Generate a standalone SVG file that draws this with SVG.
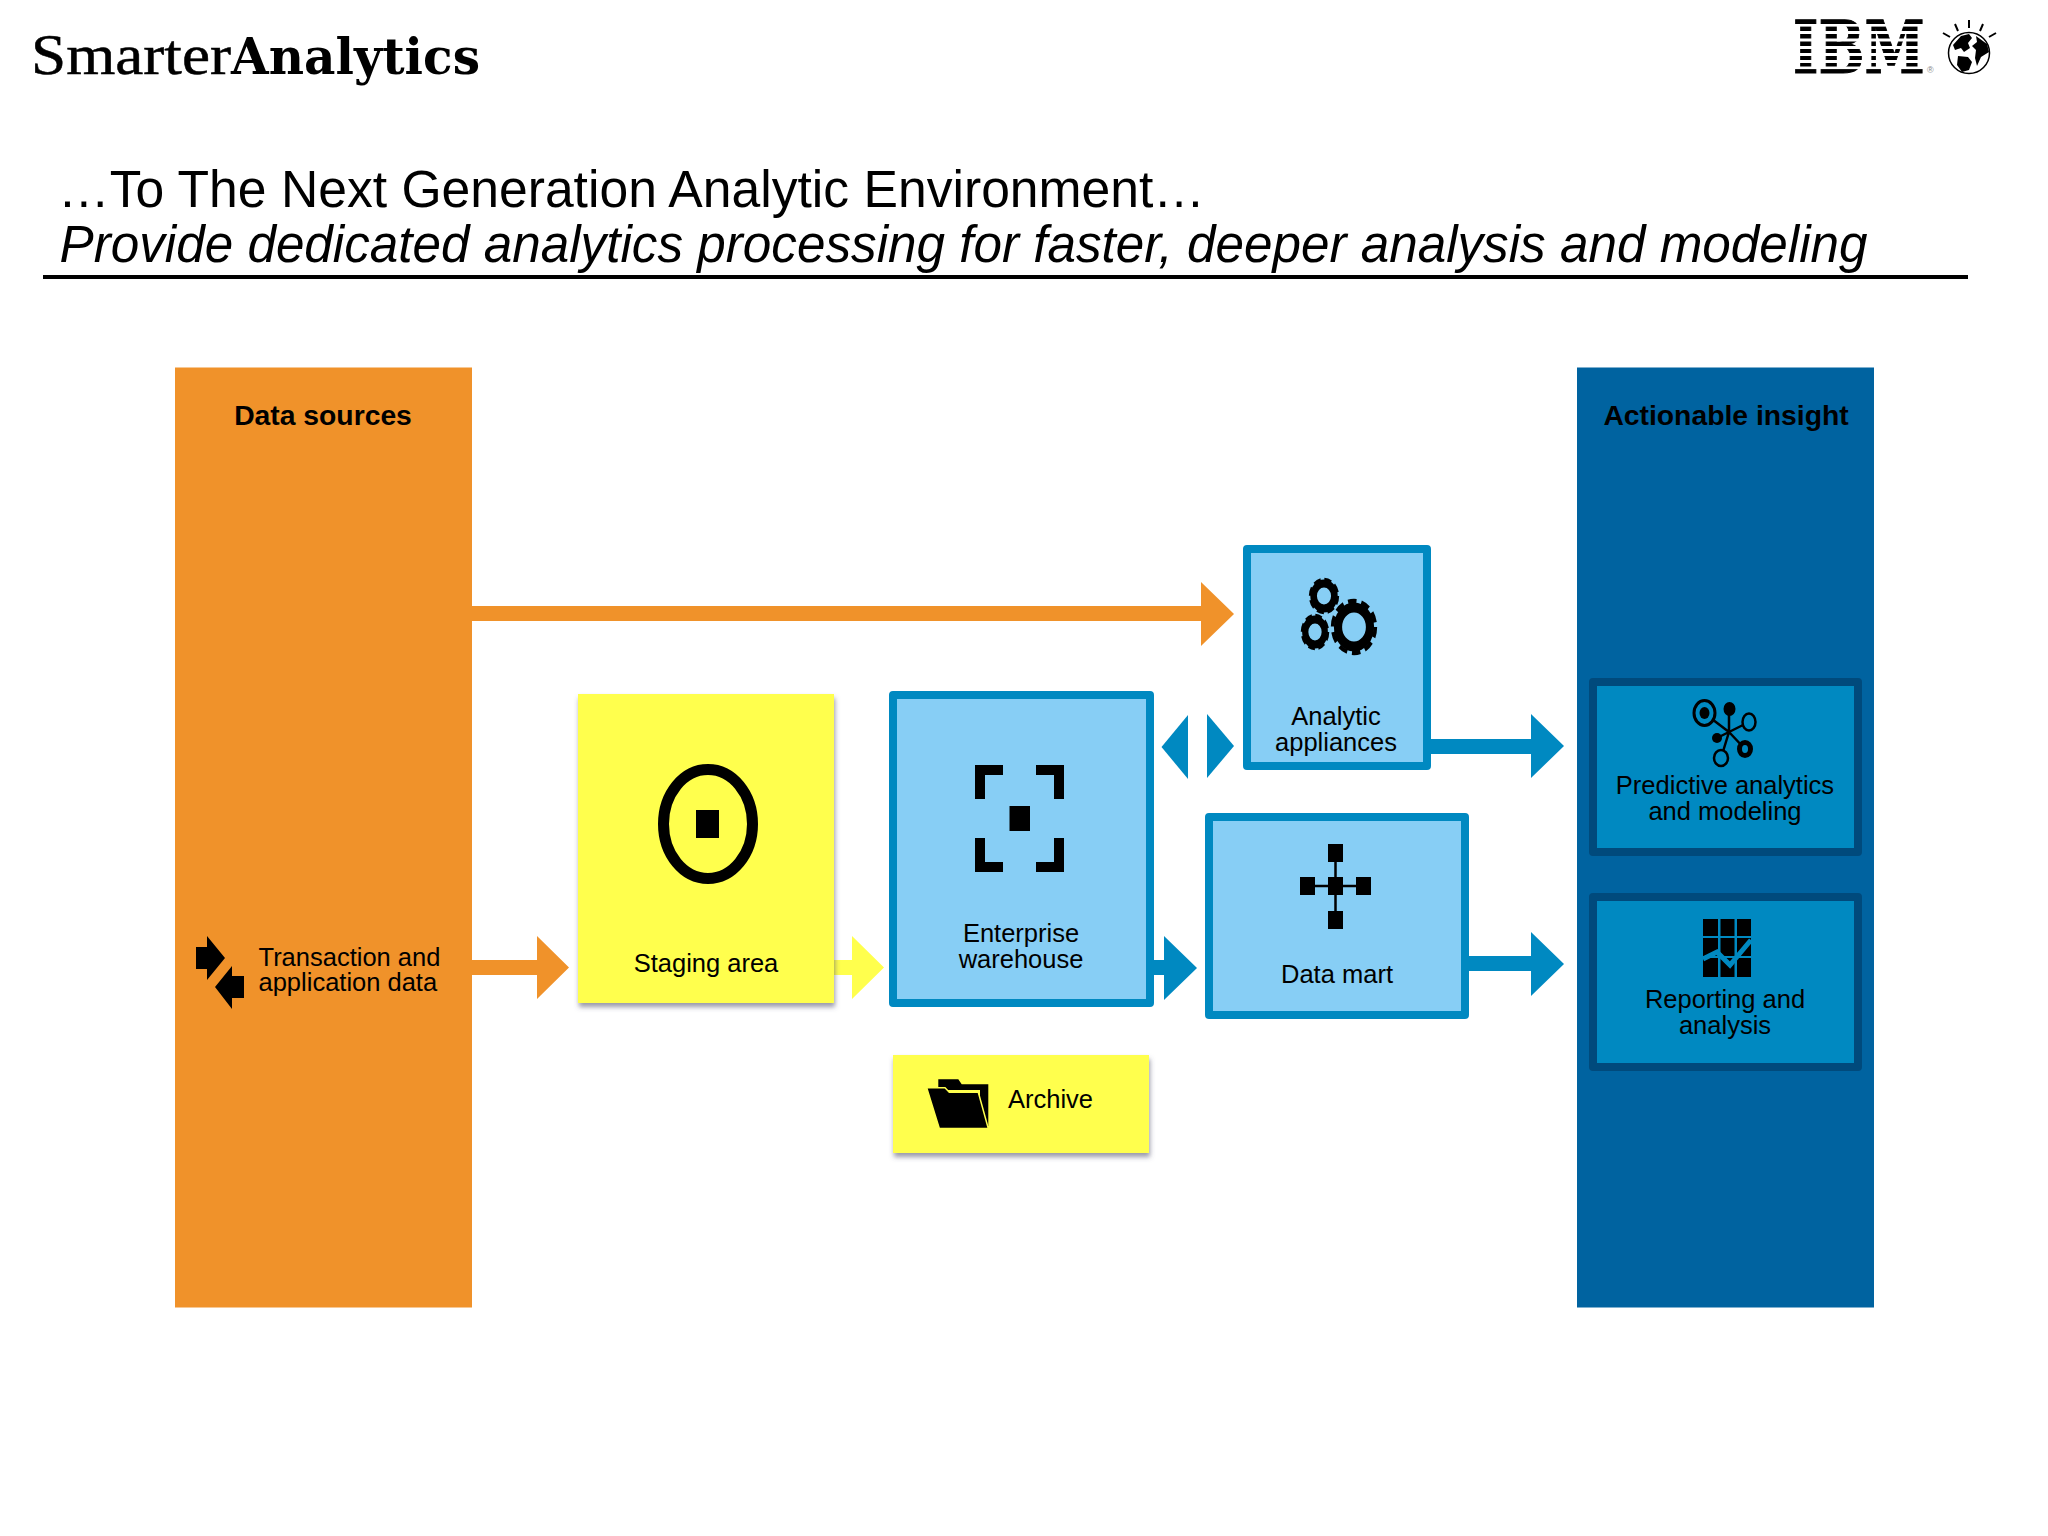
<svg xmlns="http://www.w3.org/2000/svg" width="2048" height="1536" viewBox="0 0 2048 1536">
<defs>
<style>
text{font-family:"Liberation Sans",Arial,sans-serif;fill:#000}
.l{font-size:25.5px;text-anchor:middle}
.h{font-size:28.3px;font-weight:bold;text-anchor:middle}
.lb{fill:#87CEF5;stroke:#0089C1;stroke-width:8;stroke-linejoin:round}
.db{fill:#0089C1;stroke:#004A7C;stroke-width:8;stroke-linejoin:round}
.y{fill:#FFFF4D;filter:url(#sh)}
.ring{fill:none;stroke:#000}
.bk{fill:#000}
.ln{stroke:#000;fill:none}
.o{fill:#F0922A}.ye{fill:#FFFF4D}.b{fill:#0089C1}
</style>
<filter id="sh" x="-5%" y="-5%" width="112%" height="115%"><feDropShadow dx="1" dy="4" stdDeviation="2.5" flood-color="#555570" flood-opacity="0.6"/></filter>
</defs>
<rect width="2048" height="1536" fill="#fff"/>
<g id="logo">
<text x="31" y="74" font-size="56" style="font-family:'Liberation Serif',serif;stroke:#000;stroke-width:.5" textLength="200" lengthAdjust="spacingAndGlyphs">Smarter</text>
<text x="231" y="74" font-size="51" font-weight="bold" style="font-family:'DejaVu Serif',serif" textLength="249" lengthAdjust="spacingAndGlyphs">Analytics</text>
</g>
<g id="ibm-logo">
<text transform="translate(1793,73) scale(1,1.335)" x="0" y="0" font-size="54.4" font-weight="bold" style="font-family:'DejaVu Serif',serif;stroke:#000;stroke-width:.8">IBM</text>
<g fill="#fff"><rect x="1788" y="24" width="142" height="2.6"/><rect x="1788" y="31" width="142" height="3"/><rect x="1788" y="38.5" width="142" height="3"/><rect x="1788" y="46" width="142" height="3"/><rect x="1788" y="53" width="142" height="3"/><rect x="1788" y="60" width="142" height="3"/><rect x="1788" y="66.5" width="142" height="2.6"/></g>
<text x="1927" y="73" font-size="9" style="fill:#888">®</text>
<circle cx="1969" cy="53" r="20.5" fill="#fff" stroke="#000" stroke-width="1.5"/>
<path class="bk" d="M1953 45L1961 36L1969 34L1972 38L1968 43L1970 48L1964 52L1961 48L1955 50ZM1976 36L1987 44L1989 52L1981 57L1977 66L1975 58L1976 50L1972 46L1977 42ZM1958 56L1968 57L1972 62L1969 70L1962 72L1957 65Z"/>
<g class="ln" stroke-width="2"><path d="M1969 20V28M1955 24L1958 31M1983 24L1980 31M1943 33L1950 37M1996 33L1989 37"/></g>
</g>
<g id="title">
<text x="58" y="207" font-size="51" textLength="1147" lengthAdjust="spacingAndGlyphs">…To The Next Generation Analytic Environment…</text>
<text x="59.500" y="262" font-size="51" font-style="italic" textLength="1808" lengthAdjust="spacingAndGlyphs">Provide dedicated analytics processing for faster, deeper analysis and modeling</text>
<rect x="43" y="275" width="1925" height="4"/>
</g>
<g id="connectors">
<polygon class="o" points="472,606 1201,606 1201,582 1234,614 1201,646 1201,621 472,621"/>
<polygon class="o" points="472,960 537,960 537,936 569,967.5 537,999 537,975 472,975"/>
<polygon class="ye" points="834,960 852,960 852,936 884,967.5 852,999 852,975 834,975"/>
<polygon class="b" points="1161.5,747 1188,715 1188,779"/>
<polygon class="b" points="1234,746 1207,714 1207,778"/>
<polygon class="b" points="1430,739 1531,739 1531,714 1564,746 1531,778 1531,754 1430,754"/>
<polygon class="b" points="1154,960 1164,960 1164,936 1197,968 1164,1000 1164,975 1154,975"/>
<polygon class="b" points="1469,956 1531,956 1531,932 1564,964 1531,996 1531,971 1469,971"/>
</g>
<g id="data-sources">
<rect x="175" y="367.500" width="297" height="940" fill="#F0922A"/>
<text class="h" x="323" y="425">Data sources</text>
<polygon class="bk" points="196,947 207,947 207,936 225,958 207,980 207,969 196,969"/>
<polygon class="bk" points="244,976 232,976 232,966 215,987 232,1009 232,998 244,998"/>
<text x="258.500" y="966" font-size="25.5">Transaction and</text>
<text x="258.500" y="991" font-size="25.5">application data</text>
</g>
<g id="staging-area">
<rect class="y" x="578" y="694" width="256" height="309"/>
<ellipse class="ring" cx="708" cy="824" rx="44.5" ry="54.5" stroke-width="11"/>
<rect class="bk" x="696" y="810" width="23" height="28"/>
<text class="l" x="706" y="972">Staging area</text>
</g>
<g id="enterprise-warehouse">
<rect class="lb" x="893" y="695" width="257" height="308"/>
<path class="bk" d="M975 765H1003V775H985V799H975ZM1064 765H1036V775H1054V799H1064ZM975 872H1003V862H985V838H975ZM1064 872H1036V862H1054V838H1064Z"/>
<rect class="bk" x="1009.5" y="806" width="20.5" height="25"/>
<text class="l" x="1021" y="942">Enterprise</text>
<text class="l" x="1021" y="968">warehouse</text>
</g>
<g id="archive">
<rect class="y" x="893" y="1055" width="256" height="98"/>
<path class="bk" d="M938.300 1079.300H958.300L961.700 1084.300H988.300V1126H980V1090H938.300Z"/>
<path class="bk" d="M926.700 1087.700H945L949.300 1092.300H978.300L988.300 1128.500H939.300Z" stroke="#FFFF4D" stroke-width="1.500"/>
<text x="1008" y="1108" font-size="25.5">Archive</text>
</g>
<g id="analytic-appliances">
<rect class="lb" x="1247" y="549" width="180" height="217"/>
<g transform="translate(1354,627) scale(.82,1)"><circle class="ring" r="19.500" stroke-width="10"/><circle class="ring" r="26" stroke-width="4.500" stroke-dasharray="10.500 5.840"/></g>
<g transform="translate(1324,596) scale(.83,1)"><circle class="ring" r="12.500" stroke-width="8"/><circle class="ring" r="16.500" stroke-width="3.500" stroke-dasharray="8.500 4.450"/></g>
<g transform="translate(1315,632) scale(.78,1)"><circle class="ring" r="12.500" stroke-width="8"/><circle class="ring" r="16.500" stroke-width="3.500" stroke-dasharray="8.500 4.450"/></g>
<text class="l" x="1336" y="725">Analytic</text>
<text class="l" x="1336" y="751">appliances</text>
</g>
<g id="data-mart">
<rect class="lb" x="1209" y="817" width="256" height="198"/>
<path class="ln" stroke-width="2.500" d="M1335.500 853V920M1307 886H1364"/>
<g class="bk"><rect x="1328" y="844" width="15" height="18"/><rect x="1328" y="911" width="15" height="18"/><rect x="1300" y="877" width="15" height="18"/><rect x="1328" y="877" width="15" height="18"/><rect x="1356" y="877" width="15" height="18"/></g>
<text class="l" x="1337" y="983">Data mart</text>
</g>
<g id="actionable-insight">
<rect x="1577" y="367.500" width="297" height="940" fill="#0063A0"/>
<text class="h" x="1726" y="425">Actionable insight</text>
</g>
<g id="predictive-analytics">
<rect class="db" x="1593" y="682" width="265" height="170"/>
<path class="ln" stroke-width="2.500" d="M1729 732L1704 713M1729 732V709M1729 732L1749 722M1729 732L1717 738M1729 732L1745 749M1729 732L1721 758"/>
<ellipse cx="1704.500" cy="713" rx="10.500" ry="12.500" fill="#0089C1" stroke="#000" stroke-width="3"/>
<ellipse class="bk" cx="1704.500" cy="713" rx="5" ry="6"/>
<ellipse class="bk" cx="1729.500" cy="709" rx="6" ry="7"/>
<ellipse cx="1749" cy="722" rx="6.500" ry="8.500" fill="#0089C1" stroke="#000" stroke-width="2.500"/>
<ellipse class="bk" cx="1717" cy="738" rx="5" ry="5"/>
<ellipse cx="1745" cy="749" rx="5.500" ry="6.500" fill="#0089C1" stroke="#000" stroke-width="5"/>
<ellipse cx="1721" cy="758" rx="7" ry="8" fill="#0089C1" stroke="#000" stroke-width="2.500"/>
<text class="l" x="1725" y="794">Predictive analytics</text>
<text class="l" x="1725" y="820">and modeling</text>
</g>
<g id="reporting-analysis">
<rect class="db" x="1593" y="897" width="265" height="170"/>
<g class="bk"><rect x="1703" y="919" width="15" height="17"/><rect x="1720.500" y="919" width="14" height="17"/><rect x="1737" y="919" width="14" height="17"/><rect x="1703" y="938" width="15" height="18"/><rect x="1720.500" y="938" width="14" height="18"/><rect x="1737" y="938" width="14" height="18"/><rect x="1703" y="958" width="15" height="19"/><rect x="1720.500" y="958" width="14" height="19"/><rect x="1737" y="958" width="14" height="19"/></g>
<path fill="none" stroke="#0089C1" stroke-width="5" d="M1703 959L1717 952L1730 965L1751 940"/>
<text class="l" x="1725" y="1008">Reporting and</text>
<text class="l" x="1725" y="1034">analysis</text>
</g>
</svg>
